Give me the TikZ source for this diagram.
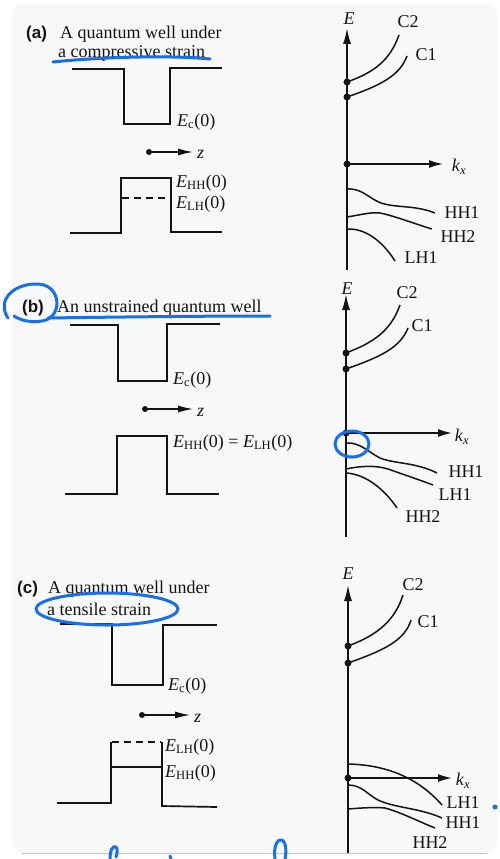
\documentclass[tikz,border=0pt]{standalone}
\usepackage{fontspec}
\setmainfont{Liberation Serif}
\newfontfamily\tagfont{Liberation Sans}
\usetikzlibrary{arrows.meta}
\definecolor{annot}{RGB}{22,112,238}
\definecolor{cardbg}{RGB}{248,248,248}
\definecolor{ink}{RGB}{20,20,20}
\newcommand\Lab[2]{\textit{#1}\textsubscript{#2}}
\begin{document}
\begin{tikzpicture}[x=1pt,y=-1pt,
  ln/.style={draw=ink,line width=1.7pt,line join=miter},
  crv/.style={draw=ink,line width=1.5pt},
  ax/.style={draw=ink,line width=1.7pt,-{Latex[length=16pt,width=8pt]}},
  kax/.style={draw=ink,line width=1.6pt,-{Latex[length=14pt,width=8pt]}},
  zax/.style={draw=ink,line width=1.2pt,-{Latex[length=15pt,width=7pt]}},
  dotn/.style={circle,fill=ink,inner sep=0pt,minimum size=7pt},
  zdot/.style={circle,fill=ink,inner sep=0pt,minimum size=6pt},
  txt/.style={font=\fontsize{18}{20}\selectfont,inner sep=0pt,text=ink},
  tag/.style={font=\tagfont\bfseries\fontsize{17}{20}\selectfont,inner sep=0pt,text=ink},
  pen/.style={draw=annot,line width=3pt,line cap=round,line join=round}
]
\useasboundingbox (0,0) rectangle (499,859);
\fill[white] (0,0) rectangle (499,859);
\fill[cardbg,rounded corners=10pt] (12,3) rectangle (497,853);
\draw[black!22,line width=1pt] (22,853) -- (487,853);

% ================= (a) =================
\node[tag,anchor=base west] (ta) at (26,38) {(a)};
\node[txt,anchor=base west] (ta1) at (60,38) {A quantum well under};
\node[txt,anchor=base west] (ta2) at (58,58) {a compressive strain};
\draw[ln] (72,69) -- (124,69) -- (124,124) -- (170,124) -- (170,68) -- (222,68);
\node[txt,anchor=west] (aec) at (177,122) {\Lab{E}{c}(0)};
\node[zdot] (azd) at (149,152) {};
\coordinate (azt) at (193,152);
\draw[zax] (azd.center) -- (azt);
\node[txt,anchor=west] (az) at (197,154) {\textit{z}};
\draw[ln] (70,233) -- (121,233) -- (121,178) -- (171,178) -- (171,232) -- (222,232);
\draw[draw=ink,line width=1.5pt,dash pattern=on 7pt off 5pt] (122,198) -- (170,198);
\node[txt,anchor=west] (aehh) at (176,183) {\Lab{E}{HH}(0)};
\node[txt,anchor=west] (aelh) at (176,204) {\Lab{E}{LH}(0)};

\coordinate (aO) at (347,270);
\coordinate (aT) at (347,28);
\draw[ax] (aO) -- (aT);
\node[txt] (aE) at (349,19) {\textit{E}};
\node[dotn] (ac2) at (347,82) {};
\node[dotn] (ac1) at (347,97) {};
\draw[crv] (ac2.center) .. controls (375,72) and (390,60) .. (399,35);
\draw[crv] (ac1.center) .. controls (382,85) and (400,75) .. (407,56);
\node[txt] (aC2) at (408,22) {C2};
\node[txt] (aC1) at (426,55) {C1};
\node[dotn] (ak) at (347,164) {};
\coordinate (akt) at (443,164);
\draw[kax] (ak.center) -- (akt);
\node[txt] (akl) at (459,167) {\Lab{k}{\itshape x}};
\draw[crv] (347,189) .. controls (362,188) and (368,198) .. (381,203) .. controls (396,208) and (415,205) .. (435,213);
\draw[crv] (347,217) .. controls (360,215) and (370,212) .. (380,213) .. controls (395,216) and (415,224) .. (432,229);
\draw[crv] (347,229) .. controls (368,228) and (385,245) .. (395,261);
\node[txt] (ahh1) at (462,213) {HH1};
\node[txt] (ahh2) at (458,237) {HH2};
\node[txt] (alh1) at (421,258) {LH1};

% ================= (b) =================
\node[tag,anchor=base west] (tb) at (22,312) {(b)};
\node[txt,anchor=base west] (tb1) at (57,312) {An unstrained quantum well};
\draw[ln] (70,325) -- (118,325) -- (118,381) -- (167,381) -- (167,324) -- (220,324);
\node[txt,anchor=west] (bec) at (173,380) {\Lab{E}{c}(0)};
\node[zdot] (bzd) at (145,409) {};
\coordinate (bzt) at (193,409);
\draw[zax] (bzd.center) -- (bzt);
\node[txt,anchor=west] (bz) at (197,412) {\textit{z}};
\draw[ln] (65,494) -- (117,494) -- (117,436) -- (167,436) -- (167,494) -- (219,494);
\node[txt,anchor=west] (beq) at (173,443) {\Lab{E}{HH}(0) = \Lab{E}{LH}(0)};

\coordinate (bO) at (346,537);
\coordinate (bT) at (346,294);
\draw[ax] (bO) -- (bT);
\node[txt] (bE) at (347,289) {\textit{E}};
\node[dotn] (bc2) at (346,353) {};
\node[dotn] (bc1) at (346,369) {};
\draw[crv] (bc2.center) .. controls (375,342) and (391,330) .. (400,305);
\draw[crv] (bc1.center) .. controls (380,357) and (400,348) .. (408,328);
\node[txt] (bC2) at (407,293) {C2};
\node[txt] (bC1) at (422,326) {C1};
\node[dotn] (bk) at (346,433) {};
\coordinate (bkt) at (452,433);
\draw[kax] (bk.center) -- (bkt);
\node[txt] (bkl) at (462,437) {\Lab{k}{\itshape x}};
\draw[crv] (346,443) .. controls (360,442) and (368,452) .. (380,458) .. controls (395,464) and (415,462) .. (437,473);
\draw[crv] (346,469) .. controls (360,466) and (375,465) .. (388,469) .. controls (402,474) and (420,480) .. (433,485);
\draw[crv] (346,473) .. controls (366,474) and (385,490) .. (397,508);
\node[txt] (bhh1) at (466,472) {HH1};
\node[txt] (blh1) at (455,495) {LH1};
\node[txt] (bhh2) at (423,517) {HH2};

% ================= (c) =================
\node[tag,anchor=base west] (tc) at (17,593) {(c)};
\node[txt,anchor=base west] (tc1) at (48,593) {A quantum well under};
\node[txt,anchor=base west] (tc2) at (47,615) {a tensile strain};
\draw[ln] (60,624) -- (112,624) -- (112,685) -- (163,685) -- (163,625) -- (217,625);
\node[txt,anchor=west] (cec) at (168,686) {\Lab{E}{c}(0)};
\node[zdot] (czd) at (142,715) {};
\coordinate (czt) at (190,715);
\draw[zax] (czd.center) -- (czt);
\node[txt,anchor=west] (cz) at (194,718) {\textit{z}};
\draw[ln] (57,803) -- (111,803) -- (111,742);
\draw[draw=ink,line width=1.5pt,dash pattern=on 7pt off 5pt] (112,742) -- (161,742);
\draw[ln] (162,742) -- (162,806) -- (217,807);
\draw[draw=ink,line width=1.4pt] (111,767) -- (162,767);
\node[txt,anchor=west] (celh) at (165,747) {\Lab{E}{LH}(0)};
\node[txt,anchor=west] (cehh) at (165,773) {\Lab{E}{HH}(0)};

\coordinate (cO) at (348,853);
\coordinate (cT) at (348,585);
\draw[ax] (cO) -- (cT);
\node[txt] (cE) at (348,574) {\textit{E}};
\node[dotn] (cc2) at (348,646) {};
\node[dotn] (cc1) at (348,663) {};
\draw[crv] (cc2.center) .. controls (378,635) and (395,620) .. (403,595);
\draw[crv] (cc1.center) .. controls (385,650) and (405,640) .. (411,620);
\node[txt] (cC2) at (413,585) {C2};
\node[txt] (cC1) at (428,622) {C1};
\node[dotn] (ck) at (348,778) {};
\coordinate (ckt) at (452,778);
\draw[kax] (ck.center) -- (ckt);
\node[txt] (ckl) at (463,781) {\Lab{k}{\itshape x}};
\draw[crv] (348,764) .. controls (390,765) and (420,780) .. (442,805);
\draw[crv] (348,785) .. controls (362,785) and (368,795) .. (378,800) .. controls (395,808) and (420,808) .. (442,818);
\draw[crv] (348,809) .. controls (360,808) and (375,807) .. (385,808) .. controls (400,812) and (420,822) .. (435,828);
\node[txt] (clh1) at (463,803) {LH1};
\node[txt] (chh1) at (463,823) {HH1};
\node[txt] (chh2) at (430,843) {HH2};

% ================= annotations =================
\draw[pen] (53,62) .. controls (100,57) and (170,55) .. (210,59);
\draw[pen] (8,318) .. controls (-4,300) and (14,283) .. (38,284) .. controls (62,285) and (63,318) .. (42,321) .. controls (30,323) and (20,320) .. (14,316);
\draw[pen] (48,318) .. controls (120,317) and (200,316) .. (270,316);
\draw[pen] (352,444) ellipse [x radius=17pt,y radius=13pt];
\draw[pen] (107,609) ellipse [x radius=71pt,y radius=16pt];
\draw[pen] (110,859) .. controls (110,850) and (113,845) .. (116,847) .. controls (118,849) and (117,854) .. (116,857);
\draw[pen] (170,856) -- (171,859);
\draw[pen] (275,859) .. controls (273,846) and (278,838) .. (282,840) .. controls (287,843) and (286,854) .. (285,859);
\fill[annot] (495,807) circle [radius=2.5pt];
\end{tikzpicture}
\end{document}
